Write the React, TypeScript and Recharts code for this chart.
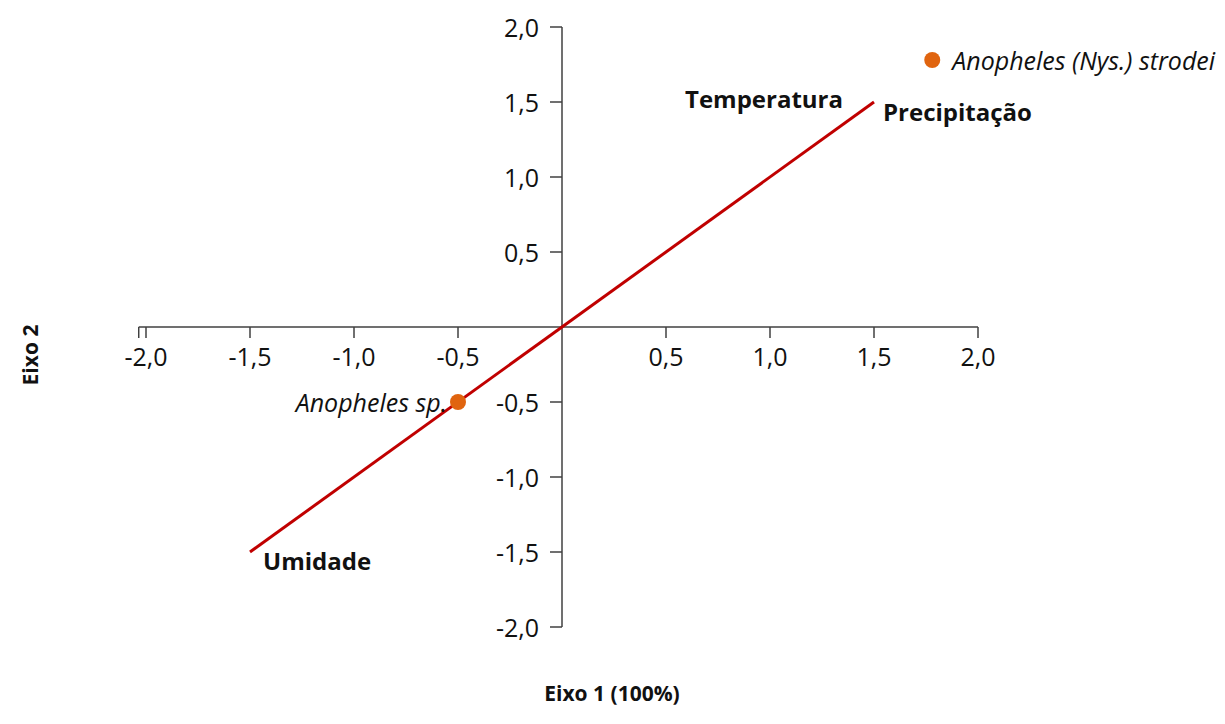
import { ScatterChart, Scatter, XAxis, YAxis, ReferenceLine, ReferenceDot } from 'recharts';

// axis ticks (both axes, zero left out)
const tickValues = [-2, -1.5, -1, -0.5, 0.5, 1, 1.5, 2];

// environmental variables (vector tips)
const variableNames = ['Temperatura', 'Precipitação', 'Umidade'];
const variableX = [1.5, 1.5, -1.5];
const variableY = [1.5, 1.5, -1.5];

// species scores
const speciesNames = ['Anopheles sp.', 'Anopheles (Nys.) strodei'];
const speciesX = [-0.5, 1.78];
const speciesY = [-0.5, 1.78];

const FONT = '"Open Sans", "Noto Sans", sans-serif';
const LINE = '#C00000';
const DOT = '#E0640F';
const AXIS = '#404040';

const labelPlacement: Record<string, { anchor: 'start' | 'end'; dx: number; dy: number }> = {
  Temperatura: { anchor: 'end', dx: -31, dy: -4 },
  'Precipitação': { anchor: 'start', dx: 9, dy: 9 },
  Umidade: { anchor: 'start', dx: 13, dy: 8 },
  'Anopheles sp.': { anchor: 'end', dx: -11, dy: 0 },
  'Anopheles (Nys.) strodei': { anchor: 'start', dx: 20, dy: 0 },
};

const fmt = (v: number) => v.toFixed(1).replace('.', ',');

const variableData = variableNames.map((name, i) => ({ name, x: variableX[i], y: variableY[i] }));
const speciesData = speciesNames.map((name, i) => ({ name, x: speciesX[i], y: speciesY[i] }));
// vectors from origin to the two tips
const vectorData = [
  { x: variableX[2], y: variableY[2] },
  { x: 0, y: 0 },
  { x: variableX[0], y: variableY[0] },
];

const XTick = (props: any) => {
  const { cx, cy, label } = props;
  return (
    <g>
      <line x1={cx} y1={cy} x2={cx} y2={cy + 11} stroke={AXIS} strokeWidth={1.5} />
      <text x={cx} y={cy + 29} textAnchor="middle" dominantBaseline="central"
        fontFamily={FONT} fontSize={25} fill="#111">{label}</text>
    </g>
  );
};

const YTick = (props: any) => {
  const { cx, cy, label } = props;
  return (
    <g>
      <line x1={cx - 12} y1={cy} x2={cx} y2={cy} stroke={AXIS} strokeWidth={1.5} />
      <text x={cx - 23} y={cy} textAnchor="end" dominantBaseline="central"
        fontFamily={FONT} fontSize={25} fill="#111">{label}</text>
    </g>
  );
};

const VariableLabel = (props: any) => {
  const { cx, cy, payload } = props;
  const p = labelPlacement[payload.name];
  return (
    <text x={cx + p.dx} y={cy + p.dy} textAnchor={p.anchor} dominantBaseline="central"
      fontFamily={FONT} fontSize={24} fontWeight={700} fill="#111">{payload.name}</text>
  );
};

const SpeciesDot = (props: any) => {
  const { cx, cy, payload } = props;
  const p = labelPlacement[payload.name];
  return (
    <g>
      <circle cx={cx} cy={cy} r={8} fill={DOT} />
      <text x={cx + p.dx} y={cy + p.dy} textAnchor={p.anchor} dominantBaseline="central"
        fontFamily={FONT} fontSize={25} fontStyle="italic" fill="#111">{payload.name}</text>
    </g>
  );
};

export default function App() {
  return (
    <div style={{ position: 'absolute', left: 0, top: 0, width: 1225, height: 724, background: '#fff' }}>
      <ScatterChart width={1225} height={724} margin={{ top: 27, right: 247, bottom: 97, left: 146 }}>
        <XAxis type="number" dataKey="x" domain={[-2, 2]} hide />
        <YAxis type="number" dataKey="y" domain={[-2, 2]} hide />
        <ReferenceLine
          segment={[{ x: -2.035, y: 0 }, { x: 2, y: 0 }]}
          stroke={AXIS} strokeWidth={1.5} ifOverflow="visible"
        />
        <ReferenceLine x={0} stroke={AXIS} strokeWidth={1.5} />
        <ReferenceDot x={-2.035} y={0} ifOverflow="visible"
          shape={(p: any) => <line x1={p.cx} y1={p.cy} x2={p.cx} y2={p.cy + 11} stroke={AXIS} strokeWidth={1.5} />} />
        {tickValues.map((t) => (
          <ReferenceDot key={`x${t}`} x={t} y={0} shape={(p: any) => <XTick {...p} label={fmt(t)} />} />
        ))}
        {tickValues.map((t) => (
          <ReferenceDot key={`y${t}`} x={0} y={t} shape={(p: any) => <YTick {...p} label={fmt(t)} />} />
        ))}
        <Scatter data={vectorData} line={{ stroke: LINE, strokeWidth: 3 }} shape={() => <g />} isAnimationActive={false} />
        <Scatter data={variableData} shape={VariableLabel} isAnimationActive={false} />
        <Scatter data={speciesData} shape={SpeciesDot} isAnimationActive={false} />
      </ScatterChart>
      <div style={{
        position: 'absolute', left: 30, top: 355, transform: 'translate(-50%, -50%) rotate(-90deg)',
        fontFamily: FONT, fontSize: 21, fontWeight: 700, color: '#111', whiteSpace: 'nowrap',
      }}>Eixo 2</div>
      <div style={{
        position: 'absolute', left: 612, top: 693, transform: 'translate(-50%, -50%)',
        fontFamily: FONT, fontSize: 21, fontWeight: 700, color: '#111', whiteSpace: 'nowrap',
      }}>Eixo 1 (100%)</div>
    </div>
  );
}
